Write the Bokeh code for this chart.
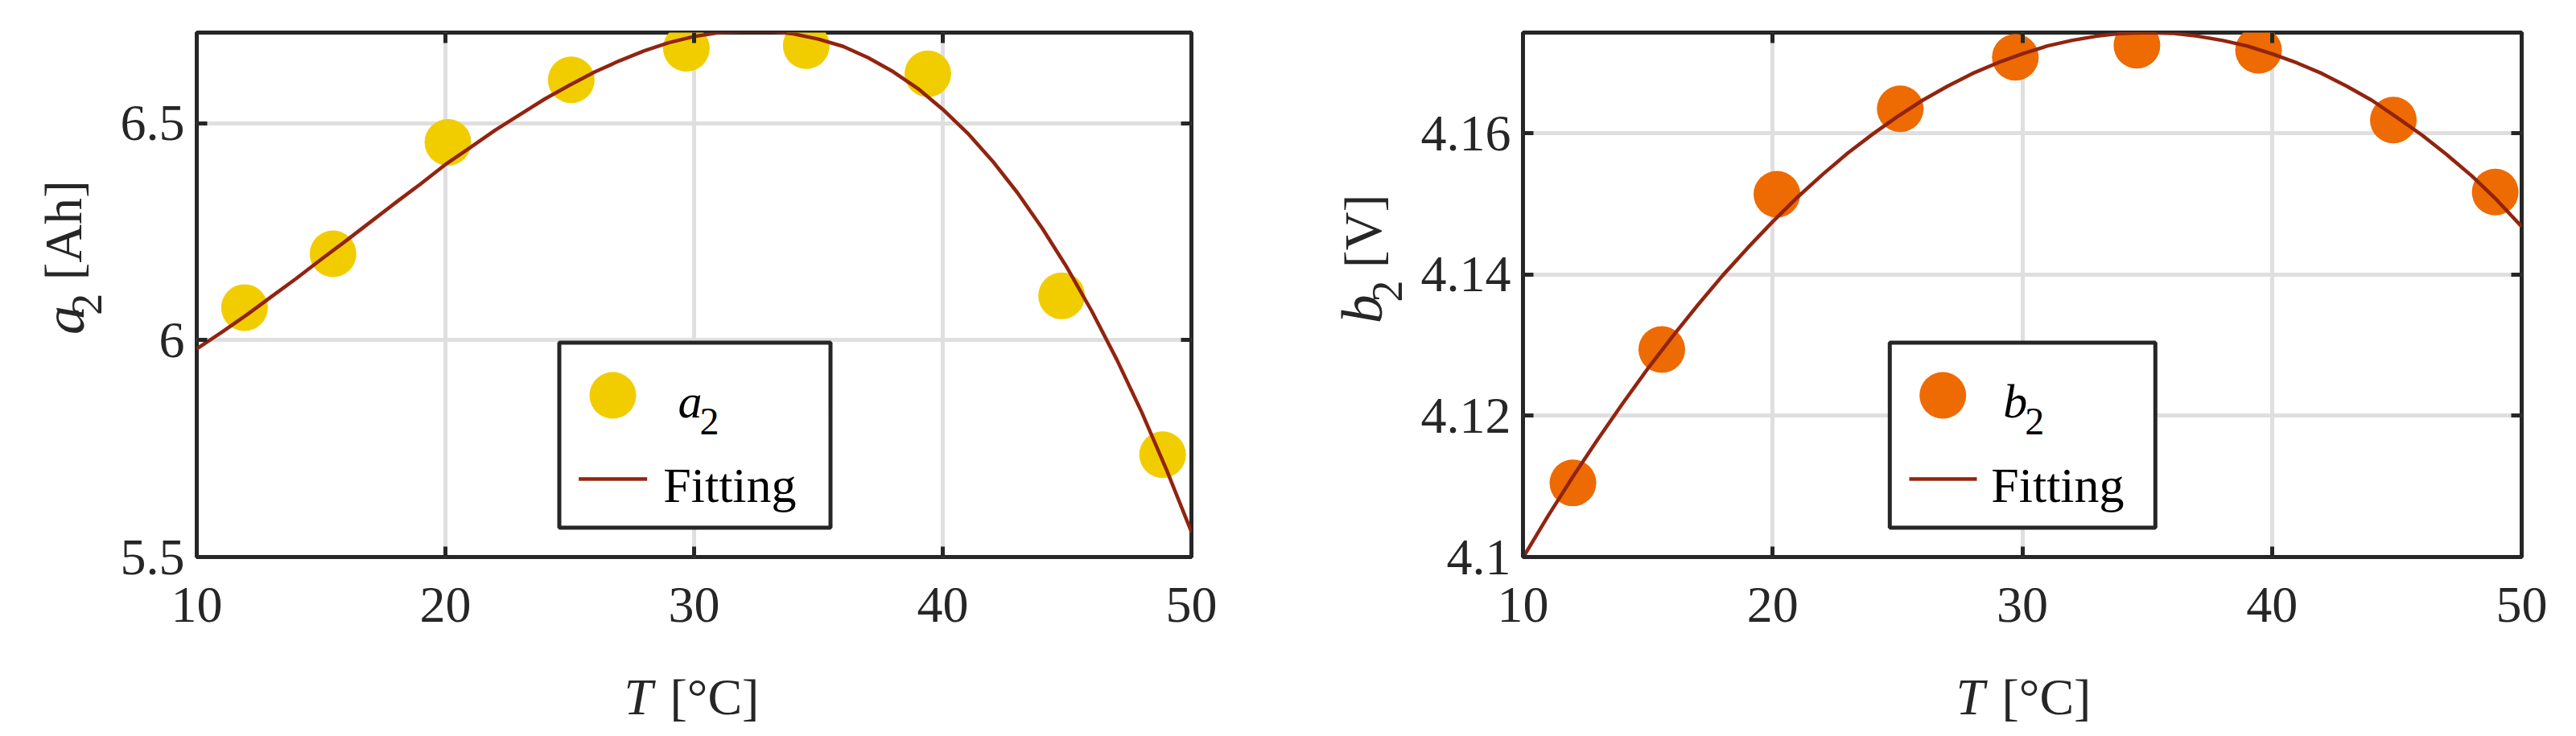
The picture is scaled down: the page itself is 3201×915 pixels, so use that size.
from bokeh.plotting import figure
from bokeh.layouts import row, column
from bokeh.models import Range1d, FixedTicker, LinearAxis, Label
from bokeh.embed import file_html
from bokeh.resources import INLINE

# ---------------- data ----------------
T_a2 = [11.92, 15.48, 20.10, 25.06, 29.69, 34.51, 39.40, 44.78, 48.84]
a2 = [6.075, 6.199, 6.456, 6.600, 6.673, 6.679, 6.614, 6.102, 5.736]

T_fit = [10, 11, 12, 13, 14, 15, 16, 17, 18, 19, 20,
         21, 22, 23, 24, 25, 26, 27, 28, 29, 30,
         31, 32, 33, 34, 35, 36, 37, 38, 39, 40,
         41, 42, 43, 44, 45, 46, 47, 48, 49, 50]
a2_fit = [5.980, 6.018, 6.058, 6.100, 6.142, 6.186, 6.229, 6.273, 6.317, 6.360, 6.405,
          6.444, 6.484, 6.520, 6.556, 6.588, 6.618, 6.644, 6.667, 6.686, 6.700,
          6.709, 6.712, 6.712, 6.706, 6.694, 6.677, 6.651, 6.619, 6.580, 6.532,
          6.477, 6.413, 6.340, 6.258, 6.167, 6.066, 5.955, 5.834, 5.701, 5.558]

T_b2 = [12.00, 15.56, 20.17, 25.11, 29.72, 34.59, 39.46, 44.86, 48.94]
b2 = [4.1105, 4.1294, 4.1514, 4.1635, 4.1708, 4.1725, 4.1718, 4.1619, 4.1517]
b2_fit = [4.0999, 4.1058, 4.1114, 4.1167, 4.1218, 4.1267, 4.1313, 4.1357, 4.1399, 4.1438, 4.1475,
          4.1510, 4.1542, 4.1572, 4.1599, 4.1624, 4.1647, 4.1667, 4.1685, 4.1700, 4.1713,
          4.1724, 4.1732, 4.1738, 4.1742, 4.1743, 4.1742, 4.1738, 4.1732, 4.1724, 4.1713,
          4.1700, 4.1685, 4.1667, 4.1647, 4.1623, 4.1598, 4.1570, 4.1540, 4.1506, 4.1468]

x_ticks = [10, 20, 30, 40, 50]
x_tick_labels = ["10", "20", "30", "40", "50"]
a2_ticks = [5.5, 6.0, 6.5]
a2_tick_labels = ["5.5", "6", "6.5"]
b2_ticks = [4.10, 4.12, 4.14, 4.16]
b2_tick_labels = ["4.1", "4.12", "4.14", "4.16"]

x_lim = (10, 50)
a2_lim = (5.5, 6.709)
b2_lim = (4.1, 4.1743)

# ---------------- style ----------------
FONT = "Liberation Serif"
AX = "#262626"
GRID = "#DFDFDF"
YELLOW = "#F1CD00"
ORANGE = "#EE6A02"
FIT = "#912410"
TOP_H = 802          # height of the row holding the axes
XL_H = 97            # height of the strip holding the x titles
TOP, BOTTOM = 40, 110
ROT = 1.5708


def lab(p, text, fx, fy, size, style="normal", angle=0.0, color="#000000", units="screen"):
    p.add_layout(Label(x=fx, y=fy, x_units=units, y_units=units, text=text,
                       text_font=FONT, text_font_size=f"{size}px", text_font_style=style,
                       text_color=color, text_align="left", text_baseline="alphabetic",
                       angle=angle))


def blank(width, height):
    # a text strip whose data units equal its pixels
    p = figure(width=width, height=height, x_range=Range1d(0, width), y_range=Range1d(0, height),
               output_backend="svg", toolbar_location=None, title=None,
               x_axis_location=None, y_axis_location=None,
               min_border=0, min_border_left=0, min_border_right=0,
               min_border_top=0, min_border_bottom=0)
    p.outline_line_color = None
    p.background_fill_color = "white"
    p.border_fill_color = "white"
    p.grid.visible = False
    return p


def make_panel(width, xs, ys, fit_y, ylim, yticks, ylabels, color, left, right, sym, leg):
    p = figure(width=width, height=TOP_H, x_range=Range1d(*x_lim), y_range=Range1d(*ylim),
               output_backend="svg", toolbar_location=None, title=None,
               min_border_left=left, min_border_right=right,
               min_border_top=TOP, min_border_bottom=BOTTOM)
    p.background_fill_color = "white"
    p.border_fill_color = "white"
    p.outline_line_color = AX
    p.outline_line_width = 5
    p.outline_line_alpha = 1.0

    p.xaxis.ticker = FixedTicker(ticks=x_ticks)
    p.xaxis.major_label_overrides = dict(zip(x_ticks, x_tick_labels))
    p.yaxis.ticker = FixedTicker(ticks=yticks)
    p.yaxis.major_label_overrides = dict(zip(yticks, ylabels))
    for ax in list(p.xaxis) + list(p.yaxis):
        ax.axis_line_color = None
        ax.major_tick_in = 13
        ax.major_tick_out = 0
        ax.major_tick_line_width = 5
        ax.major_tick_line_color = AX
        ax.minor_tick_line_color = None
        ax.major_label_text_font = FONT
        ax.major_label_text_font_size = "64px"
        ax.major_label_text_color = AX
    p.xaxis.major_label_standoff = 38
    p.yaxis.major_label_standoff = 15

    for loc, tk in (("right", yticks), ("above", x_ticks)):
        ax = LinearAxis(ticker=FixedTicker(ticks=tk), major_label_text_color=None,
                        major_label_standoff=0, major_tick_in=13, major_tick_out=0,
                        major_tick_line_width=5, major_tick_line_color=AX,
                        axis_line_color=None, minor_tick_line_color=None)
        p.add_layout(ax, loc)

    p.grid.grid_line_color = GRID
    p.grid.grid_line_width = 5
    p.xgrid.ticker = FixedTicker(ticks=x_ticks)
    p.ygrid.ticker = FixedTicker(ticks=yticks)

    p.scatter(xs, ys, size=58, marker="circle", fill_color=color, line_color=None)
    p.line(T_fit, fit_y, line_color=FIT, line_width=4.5)

    # ---- legend (layout in frame pixels, mapped to data) ----
    W = width - left - right
    H = TOP_H - TOP - BOTTOM

    def dx(px):
        return x_lim[0] + px / W * (x_lim[1] - x_lim[0])

    def dy(py):
        return ylim[0] + py / H * (ylim[1] - ylim[0])

    L, R, Tp, B = leg["box"]
    p.quad(left=[dx(L)], right=[dx(R)], top=[dy(Tp)], bottom=[dy(B)],
           fill_color="white", line_color=AX, line_width=5)
    mx, my = leg["marker"]
    p.scatter([dx(mx)], [dy(my)], size=58, marker="circle", fill_color=color, line_color=None)
    l0, l1, ly = leg["line"]
    p.line([dx(l0), dx(l1)], [dy(ly), dy(ly)], line_color=FIT, line_width=4.5)
    sx, sy = leg["sym"]
    lab(p, sym, sx, sy, 60, "italic")
    lab(p, "2", sx + 27, sy - 25.7, 48)
    fx, fy = leg["fit"]
    lab(p, "Fitting", fx, fy, 62)
    return p


# y-title strips
yl1 = blank(140, TOP_H)
lab(yl1, "a", 79, 340, 72, "italic", angle=ROT, color=AX, units="data")
lab(yl1, "2", 107, 370, 54, angle=ROT, color=AX, units="data")
lab(yl1, "[Ah]", 78, 423, 66, angle=ROT, color=AX, units="data")

yl2 = blank(160, TOP_H)
lab(yl2, "b", 100, 357, 72, "italic", angle=ROT, color=AX, units="data")
lab(yl2, "2", 131, 390, 54, angle=ROT, color=AX, units="data")
lab(yl2, "[V]", 101, 442, 66, angle=ROT, color=AX, units="data")

p1 = make_panel(1452, T_a2, a2, a2_fit, a2_lim, a2_ticks, a2_tick_labels, YELLOW, 104, 112,
                "a",
                dict(box=(450.5, 787.5, 266.5, 36.5), marker=(517, 201),
                     line=(474.7, 559.7, 97), sym=(598, 194), fit=(579.7, 89.3)))
p2 = make_panel(1432, T_b2, b2, b2_fit, b2_lim, b2_ticks, b2_tick_labels, ORANGE, 140, 51,
                "b",
                dict(box=(455.8, 785.8, 266.5, 36.5), marker=(521.7, 201),
                     line=(480, 564, 97), sym=(596.7, 194), fit=(581.7, 89.3)))

# x-title strip
xl = blank(3184, XL_H)
lab(xl, "T", 775, 33, 64, "italic", color=AX, units="data")
lab(xl, "[°C]", 832, 33, 64, color=AX, units="data")
lab(xl, "T", 2430, 33, 64, "italic", color=AX, units="data")
lab(xl, "[°C]", 2487, 33, 64, color=AX, units="data")

layout = column(row(yl1, p1, yl2, p2), xl)
open("out.html", "w").write(file_html(layout, INLINE))
